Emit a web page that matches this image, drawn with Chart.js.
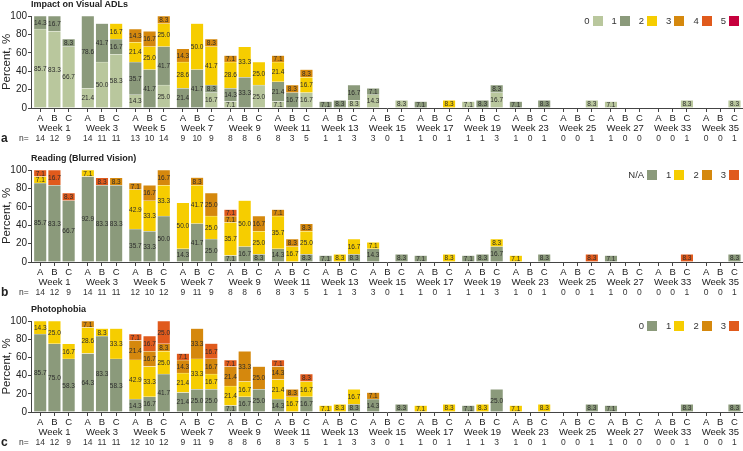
<!DOCTYPE html>
<html lang="en">
<head>
<meta charset="UTF-8">
<title>Symptom grades by visit</title>
<script src="https://cdn.jsdelivr.net/npm/chart.js"></script>
<style>
  body { margin: 0; background: #fff; font-family: "Liberation Sans", Arial, sans-serif; color: #222; }
  #wrap { position: relative; width: 743px; height: 451px; overflow: hidden; }
  .panel { position: absolute; left: 0; width: 743px; }
  .panel canvas { display: block; }
  .title { position: absolute; left: 31px; font-weight: bold; font-size: 9px; line-height: 10px; white-space: nowrap; }
  .letter { position: absolute; left: 1px; font-weight: bold; font-size: 12px; line-height: 12px; }
  .nlab { position: absolute; left: 19px; font-size: 8.5px; line-height: 10px; color: #333; }
  .legend { position: absolute; right: 4px; display: flex; align-items: center; font-size: 9.5px; line-height: 10px; color: #333; }
  .legend .item { display: flex; align-items: center; margin-left: 9px; }
  .legend i { display: inline-block; width: 10px; height: 10px; margin-left: 3px; }
</style>
</head>
<body>
<div id="wrap"></div>
<script>
const _ = null;
const weeks = ['Week 1', 'Week 3', 'Week 5', 'Week 7', 'Week 9', 'Week 11', 'Week 13', 'Week 15',
  'Week 17', 'Week 19', 'Week 23', 'Week 25', 'Week 27', 'Week 33', 'Week 35'];
const arms = ['A', 'B', 'C'];
const yTicks = [0, 20, 40, 60, 80, 100];

// a: Impact on Visual ADLs (values per week: A, B, C)
const adlGrades = ['0', '1', '2', '3', '4', '5'];
const adl0 = [85.7, 83.3, 66.7, 21.4, 50.0, 58.3, 14.3, _, 25.0, _, _, 16.7, 7.1, _, 25.0,
  7.1, _, 16.7, _, _, 8.3, 14.3, _, 8.3, _, _, _, 7.1, _, 16.7, _, _, _, _, _, 8.3, 7.1, _, _, _, _, 8.3, _, _, 8.3];
const adl1 = [14.3, 16.7, 8.3, 78.6, 41.7, 16.7, 35.7, 41.7, 41.7, 21.4, 41.7, 8.3, 14.3, 33.3, _,
  21.4, 16.7, _, 7.1, 8.3, 16.7, 7.1, _, _, 7.1, _, _, _, 8.3, 8.3, 7.1, _, 8.3, _, _, _, _, _, _, _, _, _, _, _, _];
const adl2 = [_, _, _, _, _, 16.7, 21.4, 25.0, 25.0, 28.6, 50.0, 41.7, 28.6, 33.3, 25.0,
  21.4, _, 16.7, _, _, _, _, _, _, _, _, 8.3, _, _, _, _, _, _, _, _, _, _, _, _, _, _, _, _, _, _];
const adl3 = [_, _, _, _, _, _, 14.3, 16.7, 8.3, 14.3, _, 8.3, 7.1, _, _,
  7.1, 8.3, 8.3, _, _, _, _, _, _, _, _, _, _, _, _, _, _, _, _, _, _, _, _, _, _, _, _, _, _, _];
const adl4 = [];
const adl5 = [];
const adlN = [14, 12, 9, 14, 11, 11, 13, 10, 14, 9, 10, 9, 8, 8, 6, 8, 3, 5, 1, 1, 3, 3, 0, 1,
  1, 0, 1, 1, 1, 3, 1, 0, 1, 0, 0, 1, 1, 0, 0, 0, 0, 1, 0, 0, 1];

// b: Reading (Blurred Vision)
const readGrades = ['N/A', '1', '2', '3'];
const readNA = [85.7, 83.3, 66.7, 92.9, 83.3, 83.3, 35.7, 33.3, 50.0, 14.3, 41.7, 25.0, 7.1, 16.7, 8.3,
  14.3, _, 8.3, 7.1, _, 8.3, 14.3, _, 8.3, 7.1, _, _, 7.1, 8.3, 16.7, _, _, 8.3, _, _, _, 7.1, _, _, _, _, _, _, _, 8.3];
const read1 = [7.1, _, _, 7.1, _, _, 42.9, 33.3, 33.3, 50.0, 41.7, 25.0, 35.7, 50.0, 25.0,
  35.7, 16.7, 25.0, _, 8.3, 16.7, 7.1, _, _, _, _, 8.3, _, _, 8.3, 7.1, _, _, _, _, _, _, _, _, _, _, _, _, _, _];
const read2 = [_, _, _, _, _, 8.3, 7.1, 16.7, 16.7, _, 8.3, 25.0, 7.1, _, 16.7,
  7.1, 8.3, 8.3, _, _, _, _, _, _, _, _, _, _, _, _, _, _, _, _, _, _, _, _, _, _, _, _, _, _, _];
const read3 = [7.1, 16.7, 8.3, _, 8.3, _, _, _, _, _, _, _, 7.1, _, _,
  _, _, _, _, _, _, _, _, _, _, _, _, _, _, _, _, _, _, _, _, 8.3, _, _, _, _, _, 8.3, _, _, _];
const readN = [14, 12, 9, 14, 11, 11, 12, 10, 12, 9, 11, 9, 8, 8, 6, 8, 3, 5, 1, 1, 3, 3, 0, 1,
  1, 0, 1, 1, 1, 3, 1, 0, 1, 0, 0, 1, 1, 0, 0, 0, 0, 1, 0, 0, 1];

// c: Photophobia
const photoGrades = ['0', '1', '2', '3'];
const photo0 = [85.7, 75.0, 58.3, 64.3, 83.3, 58.3, 14.3, 16.7, 41.7, 21.4, 25.0, 25.0, 7.1, 16.7, 25.0,
  14.3, _, 16.7, _, _, 8.3, 14.3, _, 8.3, _, _, _, 7.1, _, 25.0, _, _, _, _, _, 8.3, 7.1, _, _, _, _, 8.3, _, _, 8.3];
const photo1 = [14.3, 25.0, 16.7, 28.6, 8.3, 33.3, 42.9, 33.3, 25.0, 21.4, 33.3, 16.7, 21.4, 16.7, _,
  21.4, 16.7, 16.7, 7.1, 8.3, 16.7, _, _, _, 7.1, _, 8.3, _, 8.3, _, 7.1, _, 8.3, _, _, _, _, _, _, _, _, _, _, _, _];
const photo2 = [_, _, _, 7.1, _, _, 21.4, 16.7, 8.3, 14.3, 33.3, 16.7, 21.4, 33.3, 25.0,
  14.3, 8.3, _, _, _, _, 7.1, _, _, _, _, _, _, _, _, _, _, _, _, _, _, _, _, _, _, _, _, _, _, _];
const photo3 = [_, _, _, _, _, _, 7.1, 16.7, 25.0, 7.1, _, 16.7, 7.1, _, _,
  7.1, _, 8.3, _, _, _, _, _, _, _, _, _, _, _, _, _, _, _, _, _, _, _, _, _, _, _, _, _, _, _];
const photoN = [14, 12, 9, 14, 11, 11, 12, 10, 12, 9, 11, 9, 8, 8, 6, 8, 3, 5, 1, 1, 3, 3, 0, 1,
  1, 0, 1, 1, 1, 3, 1, 0, 1, 0, 0, 1, 1, 0, 0, 0, 0, 1, 0, 0, 1];

const SAGE = '#b9c79d', GREY = '#8b9a7b', YELLOW = '#f6cd00', OCHRE = '#d5880d', ORANGE = '#e05a1c', CRIMSON = '#c6003d';

const panels = [
  { letter: 'a', title: 'Impact on Visual ADLs', top: 0, plotTop: 16, plotBottom: 107,
    grades: adlGrades, series: [adl0, adl1, adl2, adl3, adl4, adl5], n: adlN,
    colors: [SAGE, GREY, YELLOW, OCHRE, ORANGE, CRIMSON] },
  { letter: 'b', title: 'Reading (Blurred Vision)', top: 150, plotTop: 170, plotBottom: 261,
    grades: readGrades, series: [readNA, read1, read2, read3], n: readN,
    colors: [GREY, YELLOW, OCHRE, ORANGE] },
  { letter: 'c', title: 'Photophobia', top: 300, plotTop: 321, plotBottom: 411,
    grades: photoGrades, series: [photo0, photo1, photo2, photo3], n: photoN,
    colors: [GREY, YELLOW, OCHRE, ORANGE] }
];

Chart.defaults.font.family = '"Liberation Sans", Arial, sans-serif';
Chart.defaults.color = '#333';

// bar slot positions: 3 bars per week plus a small gap
const GROUP = 3.35;
const slot = i => Math.floor(i / 3) * GROUP + (i % 3);
const slots = weeks.flatMap((w, g) => arms.map((a, b) => slot(g * 3 + b)));
const X_MIN = -0.65, X_MAX = 49.5;
const noSidePadding = s => { s.paddingLeft = 0; s.paddingRight = 0; };

const segmentLabels = {
  id: 'segmentLabels',
  afterDatasetsDraw(chart) {
    const ctx = chart.ctx;
    ctx.save();
    ctx.font = '6.5px "Liberation Sans", Arial, sans-serif';
    ctx.fillStyle = '#2b2b2b';
    ctx.textAlign = 'center';
    ctx.textBaseline = 'middle';
    chart.data.datasets.forEach((ds, di) => {
      chart.getDatasetMeta(di).data.forEach((bar, j) => {
        ctx.fillText(ds.data[j].y.toFixed(1), bar.x, (bar.y + bar.base) / 2 + 0.5);
      });
    });
    ctx.restore();
  }
};

const wrap = document.getElementById('wrap');

panels.forEach(p => {
  const height = p.plotBottom - p.top + 38;
  const div = document.createElement('div');
  div.className = 'panel';
  div.style.top = p.top + 'px';
  div.style.height = height + 'px';
  const canvas = document.createElement('canvas');
  canvas.width = 743;
  canvas.height = height;
  canvas.style.width = '743px';
  canvas.style.height = height + 'px';
  div.appendChild(canvas);

  const title = document.createElement('div');
  title.className = 'title';
  title.textContent = p.title;
  title.style.top = (p.plotTop - p.top - 17) + 'px';
  div.appendChild(title);

  const nRow = p.plotBottom - p.top + 31;
  const letter = document.createElement('div');
  letter.className = 'letter';
  letter.textContent = p.letter;
  letter.style.top = (nRow - 6) + 'px';
  div.appendChild(letter);
  const nlab = document.createElement('div');
  nlab.className = 'nlab';
  nlab.textContent = 'n=';
  nlab.style.top = (nRow - 5) + 'px';
  div.appendChild(nlab);

  const legend = document.createElement('div');
  legend.className = 'legend';
  legend.style.top = (p.plotTop - p.top) + 'px';
  p.grades.forEach((g, k) => {
    const item = document.createElement('span');
    item.className = 'item';
    item.innerHTML = '<span>' + g + '</span><i style="background:' + p.colors[k] + '"></i>';
    legend.appendChild(item);
  });
  div.appendChild(legend);
  wrap.appendChild(div);

  const datasets = p.series.map((vals, k) => ({
    label: p.grades[k],
    data: vals.map((v, i) => ({ x: slot(i), y: v })).filter(d => d.y !== null),
    backgroundColor: p.colors[k],
    borderColor: 'rgba(255,255,255,0.8)',
    borderWidth: 0.5,
    barThickness: 12.5,
    stack: 's'
  }));

  new Chart(canvas, {
    type: 'bar',
    data: { datasets },
    plugins: [segmentLabels],
    options: {
      responsive: false,
      animation: false,
      layout: { padding: { top: p.plotTop - p.top, left: 0, right: 0, bottom: 1 } },
      plugins: { legend: { display: false }, tooltip: { enabled: false } },
      scales: {
        x: {
          type: 'linear', min: X_MIN, max: X_MAX, offset: false,
          grid: { drawOnChartArea: false, tickLength: 4, color: '#444', offset: false },
          border: { color: '#444' },
          afterBuildTicks: s => { s.ticks = slots.map(v => ({ value: v })); },
          afterFit: noSidePadding,
          ticks: {
            autoSkip: false, maxRotation: 0, padding: 1, color: '#222',
            font: { size: 9.5, lineHeight: 10 / 9.5 },
            callback: (v, i) => i % 3 === 1 ? [arms[1], weeks[Math.floor(i / 3)]] : arms[i % 3]
          }
        },
        x2: {
          type: 'linear', position: 'bottom', min: X_MIN, max: X_MAX, offset: false,
          grid: { display: false, drawTicks: false },
          border: { display: false },
          afterBuildTicks: s => { s.ticks = slots.map(v => ({ value: v })); },
          afterFit: noSidePadding,
          ticks: {
            autoSkip: false, maxRotation: 0, padding: 0, color: '#333',
            font: { size: 8.5, lineHeight: 10 / 8.5 },
            callback: (v, i) => String(p.n[i])
          }
        },
        y: {
          stacked: true, min: 0, max: 100,
          afterFit: s => { s.width = 31; },
          afterBuildTicks: s => { s.ticks = yTicks.map(v => ({ value: v })); },
          grid: { drawOnChartArea: false, tickLength: 3, color: '#444' },
          border: { color: '#444' },
          title: { display: true, text: 'Percent, %', font: { size: 11.5 }, padding: 0, color: '#222' },
          ticks: { padding: 1, font: { size: 10 }, color: '#222' }
        }
      }
    }
  });
});
</script>
</body>
</html>
